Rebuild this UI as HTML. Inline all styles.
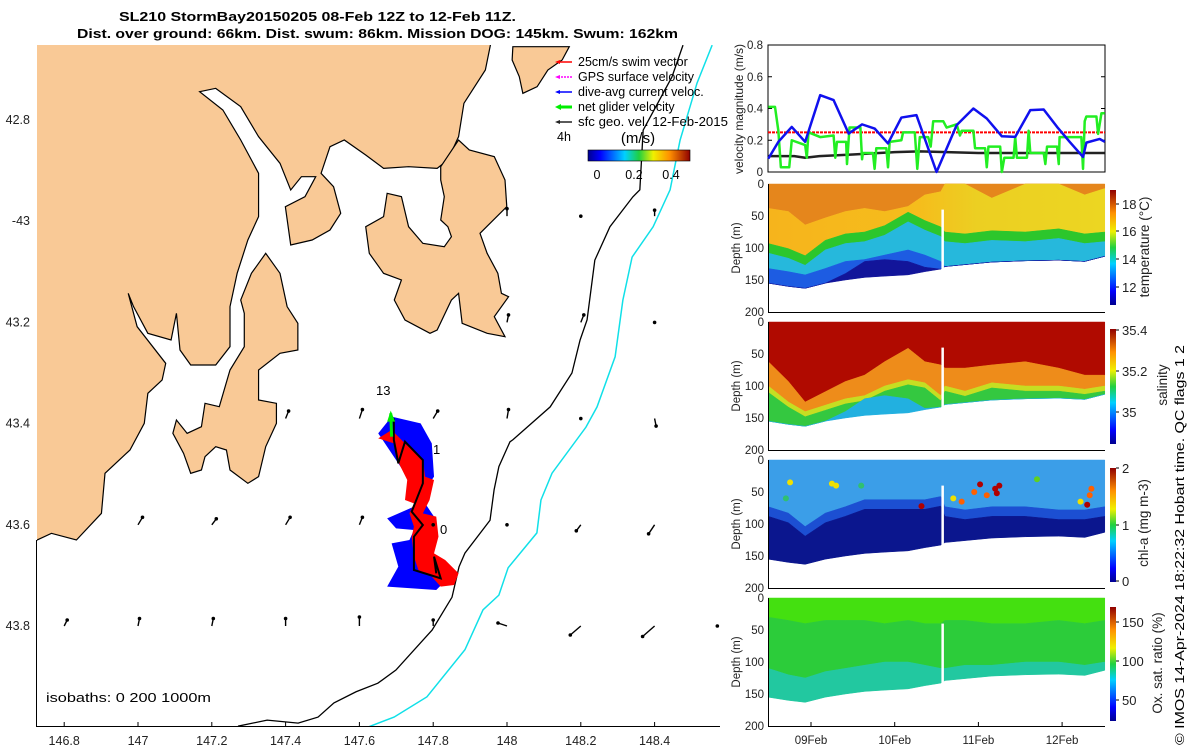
<!DOCTYPE html>
<html><head><meta charset="utf-8">
<style>
html,body{margin:0;padding:0;background:#fff;}
svg{display:block;font-family:"Liberation Sans","DejaVu Sans",sans-serif;}
</style></head>
<body>
<svg id="fig" width="1200" height="750" viewBox="0 0 1200 750" xmlns="http://www.w3.org/2000/svg">
<defs>
  <clipPath id="mapclip"><rect x="37" y="45" width="683" height="681"/></clipPath>
  <linearGradient id="jet" x1="0" y1="1" x2="0" y2="0">
    <stop offset="0" stop-color="#00008f"/><stop offset="0.12" stop-color="#0000ff"/>
    <stop offset="0.36" stop-color="#00d0ff"/><stop offset="0.5" stop-color="#20d040"/>
    <stop offset="0.64" stop-color="#f0f000"/><stop offset="0.8" stop-color="#ff9000"/>
    <stop offset="1" stop-color="#900000"/>
  </linearGradient>
  <linearGradient id="jeth" x1="0" y1="0" x2="1" y2="0">
    <stop offset="0" stop-color="#00008f"/><stop offset="0.12" stop-color="#0000ff"/>
    <stop offset="0.36" stop-color="#00d0ff"/><stop offset="0.5" stop-color="#20d040"/>
    <stop offset="0.64" stop-color="#f0f000"/><stop offset="0.8" stop-color="#ff9000"/>
    <stop offset="1" stop-color="#900000"/>
  </linearGradient>
  <linearGradient id="tyellow" gradientUnits="userSpaceOnUse" x1="768" y1="0" x2="1105" y2="0">
    <stop offset="0" stop-color="#f6b41c"/><stop offset="0.45" stop-color="#f5bd1c"/>
    <stop offset="0.62" stop-color="#eccf22"/><stop offset="1" stop-color="#ecd622"/>
  </linearGradient>
</defs>

<text x="119" y="21" font-size="13" font-weight="bold" textLength="397" lengthAdjust="spacingAndGlyphs">SL210 StormBay20150205 08-Feb 12Z to 12-Feb 11Z.</text>
<text x="77" y="38" font-size="13" font-weight="bold" textLength="601" lengthAdjust="spacingAndGlyphs">Dist. over ground: 66km. Dist. swum: 86km. Mission DOG: 145km. Swum: 162km</text>

<g id="map">
 <g clip-path="url(#mapclip)">
  <g id="land" transform="translate(30,40) scale(0.357143,0.333333)" fill="#f9c996" stroke="#000" stroke-width="1.2">
   <polygon vector-effect="non-scaling-stroke" points="0,0 1292,0 1275,90 1215,190 1200,290 1170,360 1140,385 1060,380 990,385 940,345 880,300 840,320 815,400 850,440 870,520 840,570 790,600 730,615 715,500 770,470 800,410 760,410 730,450 700,370 640,290 590,200 520,145 475,155 540,210 590,300 640,400 640,530 610,600 580,700 560,800 560,920 520,975 450,975 420,930 410,820 395,900 330,880 290,800 275,760 300,860 380,970 370,1020 330,1060 320,1150 280,1230 210,1300 200,1420 130,1500 60,1480 0,1510"/>
   <polygon vector-effect="non-scaling-stroke" points="1150,380 1200,300 1230,330 1300,350 1330,420 1335,500 1260,580 1280,640 1310,700 1320,760 1340,770 1300,830 1330,890 1280,880 1210,850 1200,760 1180,780 1140,870 1120,880 1050,840 1020,780 1040,720 990,700 950,640 940,560 990,530 1000,460 1040,470 1060,560 1100,610 1160,620 1180,590 1170,560 1150,540 1160,470 1150,420"/>
   <polygon vector-effect="non-scaling-stroke" points="660,640 700,700 720,800 750,850 750,930 700,940 640,990 640,1080 690,1090 690,1150 660,1220 640,1310 610,1330 560,1290 550,1230 520,1220 490,1250 480,1290 450,1300 430,1240 400,1180 410,1140 440,1180 480,1160 490,1090 530,1100 560,990 600,920 600,820 590,780 620,700"/>
   <polygon vector-effect="non-scaling-stroke" points="1352,20 1510,20 1490,60 1450,90 1420,140 1380,160 1370,110 1350,60"/>
  </g>
  <g id="isobaths" fill="none"></g>
  <g id="track" transform="translate(30,380) scale(0.446429,0.333333)">
   <polygon fill="#0000ff" points="780,160 810,110 875,130 900,190 905,290 880,340 860,380 800,415 820,445 860,450 850,480 810,490 825,560 800,620 910,630 940,590 900,560 880,480 870,430 905,410"/>
   <polygon fill="#ff0000" points="780,175 810,150 840,190 880,240 885,290 905,300 895,360 880,400 910,410 915,470 905,520 930,540 960,580 950,615 920,620 900,590 870,570 860,530 855,470 860,440 850,400 860,370 840,360 845,300 830,260 820,230 815,190"/>
   <polyline fill="none" stroke="#000" stroke-width="2" vector-effect="non-scaling-stroke" points="815,115 815,180 825,250 840,185 880,240 880,310 855,395 880,435 860,470 860,570 920,595 905,530 910,580"/>
   <polyline fill="none" stroke="#00ee00" stroke-width="3" vector-effect="non-scaling-stroke" points="810,170 808,100"/>
   <polygon fill="#00ee00" points="800,125 808,92 818,125"/>
  </g>
  <g id="vectors"></g>
 </g>
 <line x1="36.5" y1="540" x2="36.5" y2="726" stroke="#000"/>
 <line x1="36" y1="726.5" x2="720" y2="726.5" stroke="#000"/>
 <g id="mapticks" font-size="12.5" fill="#222"></g>
 <text x="376" y="395" font-size="13">13</text>
 <text x="433" y="454" font-size="13">1</text>
 <text x="440" y="534" font-size="13">0</text>
 <text x="46" y="702" font-size="13" textLength="165" lengthAdjust="spacingAndGlyphs">isobaths: 0   200  1000m</text>
 <g font-size="12.5">
  <g><line x1="558" y1="62" x2="572" y2="62" stroke="#f00" stroke-width="1.5"/><polygon points="555,62 560,60 560,64" fill="#f00"/><text x="578" y="66">25cm/s swim vector</text></g>
  <g><line x1="558" y1="77" x2="572" y2="77" stroke="#f0f" stroke-width="1.5" stroke-dasharray="2,1"/><polygon points="555,77 560,75 560,79" fill="#f0f"/><text x="578" y="81">GPS surface velocity</text></g>
  <g><line x1="558" y1="92" x2="572" y2="92" stroke="#00f" stroke-width="1.5"/><polygon points="555,92 560,90 560,94" fill="#00f"/><text x="578" y="96">dive-avg current veloc.</text></g>
  <g><line x1="558" y1="107" x2="572" y2="107" stroke="#0e0" stroke-width="3"/><polygon points="555,107 561,104 561,110" fill="#0e0"/><text x="578" y="111">net glider velocity</text></g>
  <g><line x1="558" y1="122" x2="572" y2="122" stroke="#222" stroke-width="1.5"/><polygon points="555,122 560,120 560,124" fill="#222"/><text x="578" y="126" textLength="150" lengthAdjust="spacingAndGlyphs">sfc geo. vel. 12-Feb-2015</text></g>
  <text x="557" y="141">4h</text>
 </g>
 <text x="638" y="143" font-size="15" text-anchor="middle">(m/s)</text>
 <rect x="588" y="150" width="102" height="11" fill="url(#jeth)" stroke="#000" stroke-width="0.6"/>
 <text x="597" y="179" font-size="12.5" text-anchor="middle">0</text>
 <text x="634" y="179" font-size="12.5" text-anchor="middle">0.2</text>
 <text x="671" y="179" font-size="12.5" text-anchor="middle">0.4</text>
</g>

<g id="vel"></g>
<g id="panels"></g>
<g id="xaxis" font-size="11.5" fill="#222"></g>

<text transform="translate(1184,745) rotate(-90)" font-size="13" textLength="400" lengthAdjust="spacingAndGlyphs">© IMOS 14-Apr-2024 18:22:32 Hobart time. QC flags 1  2</text>
</svg>

<script>
// ---------- Velocity data ----------
const velBlueT = [8.49,8.61,8.77,8.93,9.11,9.27,9.45,9.61,9.76,9.92,10.08,10.26,10.50,10.74,10.94,11.10,11.28,11.44,11.62,11.78,11.94,12.09,12.25,12.29,12.45,12.51];
const velBlueV = [0.084,0.19,0.284,0.19,0.484,0.453,0.242,0.30,0.274,0.18,0.343,0.358,0.0,0.295,0.40,0.337,0.225,0.221,0.39,0.394,0.284,0.19,0.095,0.185,0.208,0.19];
const velGreenT = [8.49,8.57,8.61,8.64,8.74,8.77,8.93,8.95,8.97,9.11,9.27,9.29,9.31,9.42,9.43,9.46,9.59,9.61,9.62,9.74,9.76,9.78,9.90,9.92,9.94,10.08,10.10,10.24,10.27,10.30,10.40,10.43,10.46,10.58,10.62,10.74,10.78,10.80,10.94,10.96,11.08,11.10,11.12,11.26,11.28,11.31,11.42,11.44,11.46,11.58,11.60,11.62,11.78,11.80,11.82,11.94,11.96,11.97,12.09,12.23,12.25,12.27,12.29,12.41,12.43,12.47,12.51];
const velGreenV = [0.41,0.41,0.26,0.03,0.03,0.20,0.17,0.09,0.25,0.22,0.23,0.09,0.19,0.19,0.05,0.28,0.28,0.08,0.12,0.12,0.02,0.15,0.15,0.03,0.19,0.20,0.25,0.25,0.02,0.22,0.22,0.16,0.32,0.32,0.28,0.30,0.23,0.26,0.26,0.15,0.15,0.03,0.16,0.16,0.0,0.09,0.09,0.22,0.09,0.09,0.26,0.12,0.12,0.05,0.16,0.16,0.05,0.22,0.22,0.22,0.02,0.32,0.35,0.35,0.24,0.37,0.37];
const velBlackT = [8.49,8.8,8.93,9.1,9.5,10.0,10.3,11.0,12.51];
const velBlackV = [0.10,0.10,0.09,0.10,0.11,0.125,0.13,0.12,0.12];
const velSwim = [0.25];
const velTicks = [0,0.2,0.4,0.6,0.8];

// ---------- Section data ----------
const secT      = [8.49,8.73,8.93,9.17,9.41,9.64,9.88,10.16,10.36,10.55,10.6,10.84,11.16,11.56,11.96,12.27,12.51];
const bottomD   = [155,160,163,155,150,146,144,142,137,133,129,126,122,120,119,121,113];
const tempD17   = [38,43,64,53,43,38,43,35,17,12,0,0,22,0,0,17,7];
const tempD16   = [93,101,112,88,78,75,65,44,57,67,75,78,73,75,70,78,75];
const tempD14   = [108,116,127,103,93,90,80,59,72,82,90,93,88,90,85,93,90];
const tempD13   = [132,137,142,132,121,118,111,103,111,121,129,126,122,120,119,121,113];
const tempD12   = [155,160,163,155,140,121,118,121,130,133,129,126,122,120,119,121,113];
const salD1     = [62,93,125,109,93,83,62,41,62,67,72,72,67,62,72,83,83];
const salD2     = [100,125,140,130,120,115,100,90,95,115,100,108,95,100,100,105,100];
const salD3     = [110,133,148,138,128,123,108,98,103,123,108,116,103,108,108,113,108];
const salD4     = [155,160,163,155,140,120,115,120,135,133,129,126,122,120,119,121,113];
const chlD1     = [73,83,104,83,73,62,62,62,62,57,73,78,73,73,78,78,73];
const chlD2     = [88,98,119,98,88,77,77,77,77,72,88,93,88,88,93,93,88];
const oxD1      = [30,35,40,35,35,35,40,35,40,40,35,35,40,40,35,40,35];
const oxD2      = [110,120,125,115,110,105,100,100,105,110,110,105,105,100,100,105,100];
const chlDotT   = [8.75,9.25,9.3,10.32,10.7,10.8,10.95,11.02,11.1,11.2,11.22,11.25,12.22,12.3,12.33,12.35,11.7,9.6,8.7];
const chlDotD   = [35,37,40,72,60,65,50,38,55,45,52,40,65,70,55,45,30,40,60];
const chlDotV   = [1.5,1.4,1.5,2.0,1.4,1.6,1.6,2.0,1.7,1.9,2.0,2.0,1.5,2.0,1.6,1.8,1.1,1.0,1.0];
const gapT      = [10.57];
const dayTicks  = [9,10,11,12];
const dayLabels = ["09Feb","10Feb","11Feb","12Feb"];

// ---------- Map data ----------
const lonTicks = [146.8,147,147.2,147.4,147.6,147.8,148,148.2,148.4];
const latTicks = [-42.8,-43,-43.2,-43.4,-43.6,-43.8];
const latLabels = ["42.8","-43","43.2","43.4","43.6","43.8"];
const iso200Lon = [148.477,148.447,148.369,148.360,148.341,148.279,148.238,148.217,148.198,148.176,148.117,148.016,148.008,147.978,147.965,147.954,147.886,147.870,147.851,147.797,147.699,147.650,147.591,147.531,147.488,147.434,147.350,147.271];
const iso200Lat = [-42.652,-42.715,-42.820,-42.938,-42.952,-43.011,-43.077,-43.195,-43.235,-43.300,-43.367,-43.432,-43.436,-43.485,-43.531,-43.591,-43.656,-43.683,-43.743,-43.808,-43.887,-43.913,-43.930,-43.952,-43.980,-43.992,-43.986,-43.998];
const iso1000Lon = [148.556,148.515,148.469,148.442,148.396,148.339,148.314,148.293,148.244,148.214,148.122,148.092,148.081,148.003,147.978,147.935,147.886,147.783,147.694,147.626];
const iso1000Lat = [-42.652,-42.727,-42.840,-42.938,-43.011,-43.071,-43.156,-43.268,-43.367,-43.407,-43.498,-43.551,-43.616,-43.685,-43.739,-43.768,-43.847,-43.940,-43.980,-43.999];
const vecLon = [148.0,148.2,148.4, 148.0,148.2,148.4, 147.4,147.6,147.8,148.0,148.2,148.4, 147.0,147.2,147.4,147.6,147.8,148.0,148.2,148.4, 146.8,147.0,147.2,147.4,147.6,147.8,148.0,148.2,148.4,148.57];
const vecLat = [-42.99,-42.99,-42.99, -43.2,-43.2,-43.2, -43.39,-43.39,-43.39,-43.39,-43.39,-43.39, -43.6,-43.6,-43.6,-43.6,-43.6,-43.6,-43.6,-43.6, -43.8,-43.8,-43.8,-43.8,-43.8,-43.8,-43.8,-43.8,-43.8,-43.8];
const vecU = [0.0,0.0,0.0, 0.01,0.02,0.0, 0.02,0.02,0.03,0.01,0.0,0.01, 0.03,0.03,0.03,0.02,0.0,0.0,-0.03,-0.04, 0.02,0.01,0.01,0.0,0.0,0.0,-0.06,-0.07,-0.08,0.0];
const vecV = [0.05,0.0,0.04, 0.05,0.05,0.0, 0.05,0.06,0.05,0.06,0.0,-0.05, 0.05,0.04,0.05,0.05,0.0,0.0,-0.04,-0.06, 0.04,0.05,0.05,0.05,0.06,0.04,0.02,-0.06,-0.07,0.0];

const NS = "http://www.w3.org/2000/svg";
function mk(tag, attrs, parent){ const e=document.createElementNS(NS,tag); for(const k in attrs) e.setAttribute(k,attrs[k]); parent.appendChild(e); return e; }
const xT = t => 811 + (t-9)*83.7;
const X0 = 768, X1 = 1105;
const yV = v => 172 - v*158.75;
const lonX = lon => 138 + (lon-147)*369;
const latY = lat => 120 + (-42.8-lat)*506;

const mt = document.getElementById('mapticks');
lonTicks.forEach(l=>{
  const x=lonX(l);
  const tk=mk('line',{x1:x,y1:722,x2:x,y2:726,stroke:'#000'},mt);
  
  
  const t=mk('text',{x:x,y:745,'text-anchor':'middle'},mt); t.textContent=String(l);
  
  
});
latTicks.forEach((l,i)=>{
  const y=latY(l);
  const t=mk('text',{x:30,y:y+4,'text-anchor':'end'},mt); t.textContent=latLabels[i];
  
  
});
const iso=document.getElementById('isobaths');
const p200=mk('polyline',{points:iso200Lon.map((l,i)=>lonX(l)+','+latY(iso200Lat[i])).join(' '),stroke:'#000','stroke-width':1.3,fill:'none'},iso);


const p1000=mk('polyline',{points:iso1000Lon.map((l,i)=>lonX(l)+','+latY(iso1000Lat[i])).join(' '),stroke:'#10e0e8','stroke-width':1.5,fill:'none'},iso);


const vg=document.getElementById('vectors');
vecLon.forEach((l,i)=>{
  const x=lonX(l), y=latY(vecLat[i]);
  const dx=vecU[i]*150, dy=-vecV[i]*150;
  const ln=mk('line',{x1:x,y1:y,x2:x+dx,y2:y+dy,stroke:'#000','stroke-width':1.4},vg);
  
  
  const d=mk('circle',{cx:x+dx,cy:y+dy,r:1.8,fill:'#000'},vg);
  
  
});

const vel=document.getElementById('vel');
const vb=mk('rect',{x:X0,y:45,width:X1-X0,height:127,fill:'#fff',stroke:'#000'},vel);


velTicks.forEach(v=>{
  const y=yV(v);
  mk('line',{x1:X0,y1:y,x2:X0+4,y2:y,stroke:'#000'},vel);
  mk('line',{x1:X1-4,y1:y,x2:X1,y2:y,stroke:'#000'},vel);
  const t=mk('text',{x:X0-5,y:y+4,'text-anchor':'end','font-size':11.5,fill:'#222'},vel); t.textContent=String(v);
  
  
});
const sw=mk('line',{x1:X0,y1:yV(velSwim[0]),x2:X1,y2:yV(velSwim[0]),stroke:'#f00','stroke-width':2,'stroke-dasharray':'3,1'},vel);


function vline(T,V,col,w,name){ const p=mk('polyline',{points:T.map((t,i)=>xT(t)+','+yV(V[i])).join(' '),fill:'none',stroke:col,'stroke-width':w,'stroke-linejoin':'round'},vel);   }
vline(velBlackT,velBlackV,'#222',2.5,'sfc-geo-velocity-line');
vline(velGreenT,velGreenV,'#22ee22',2.5,'net-glider-velocity-line');
vline(velBlueT,velBlueV,'#1010ee',2.5,'dive-avg-velocity-line');
const vyl=mk('text',{transform:'translate(743,109) rotate(-90)','text-anchor':'middle','font-size':12,fill:'#222'},vel); vyl.textContent='velocity magnitude (m/s)';



const panels=document.getElementById('panels');
function sectionPanel(y0, name, bounds, colors, cbar, label, labelX){
  const g=mk('g',{},panels);
  
  
  const yD=d=>y0+d*0.64;
  const bnds=[secT.map(()=>0)].concat(bounds).concat([bottomD]);
  for(let k=0;k<bnds.length-1;k++){
    const top=bnds[k].map((d,i)=>Math.min(d,bottomD[i]));
    const bot=bnds[k+1].map((d,i)=>Math.min(d,bottomD[i]));
    const pts=secT.map((t,i)=>xT(t)+','+yD(top[i])).concat(secT.map((t,i)=>xT(t)+','+yD(bot[i])).reverse());
    const p=mk('polygon',{points:pts.join(' '),fill:colors[k],stroke:colors[k],'stroke-width':0.5},g);
    
    
  }
  gapT.forEach(t=>{
    const r=mk('rect',{x:xT(t)-1,y:yD(40),width:2.5,height:yD(140)-yD(40),fill:'#fff'},g);
    
    
  });
  mk('line',{x1:X0+0.5,y1:y0,x2:X0+0.5,y2:y0+128,stroke:'#000'},g);
  mk('line',{x1:X0,y1:y0+128.5,x2:X1,y2:y0+128.5,stroke:'#000'},g);
  [0,50,100,150,200].forEach(d=>{
    const t=mk('text',{x:X0-4,y:yD(d)+4,'text-anchor':'end','font-size':11.5,fill:'#222'},g); t.textContent=String(d);
    
    
  });
  const yl=mk('text',{transform:'translate(740,'+(y0+64)+') rotate(-90)','text-anchor':'middle','font-size':11.5,fill:'#222'},g); yl.textContent='Depth (m)';
  
  
  const cb=mk('rect',{x:1110,y:cbar.y0,width:6,height:cbar.y1-cbar.y0,fill:'url(#jet)'},g);
  
  
  cbar.ticks.forEach((tv,i)=>{
    const y=cbar.pos[i];
    mk('line',{x1:1116,y1:y,x2:1119,y2:y,stroke:'#000'},g);
    const t=mk('text',{x:1122,y:y+5,'font-size':13,fill:'#222'},g); t.textContent=tv;
    
    
  });
  const cl=mk('text',{transform:'translate('+labelX+','+cbar.mid+') rotate(-90)','text-anchor':'middle','font-size':13.5,fill:'#222'},g); cl.textContent=label;
  
  
  return {g:g,yD:yD};
}
sectionPanel(184,'temperature-panel',[tempD17,tempD16,tempD14,tempD13,tempD12],
  ['#e5861c','url(#tyellow)','#2cc62c','#26b8dc','#1d5ce2','#12159a'],
  {y0:190,y1:305,ticks:['18','16','14','12'],pos:[204,231,259,287],mid:247},'temperature (°C)',1149);
sectionPanel(322,'salinity-panel',[salD1,salD2,salD3,salD4],
  ['#b00a00','#ee8c1a','#c6de22','#34c840','#22b0e0'],
  {y0:329,y1:444,ticks:['35.4','35.2','35'],pos:[330,371,412],mid:385},'salinity',1167);
const chl=sectionPanel(460,'chlorophyll-panel',[chlD1,chlD2],
  ['#3b9ee8','#1c4fd2','#0b168e'],
  {y0:468,y1:582,ticks:['2','1','0'],pos:[468,525,581],mid:523},'chl-a (mg m-3)',1148);
const chlColor=v=> v>=1.9?'#b00000': v>=1.6?'#ff6000': v>=1.4?'#f0e000': v>=1.1?'#60d020':'#30c070';
chlDotT.forEach((t,i)=>{
  const c=mk('circle',{cx:xT(t),cy:chl.yD(chlDotD[i]),r:3,fill:chlColor(chlDotV[i])},chl.g);
  
  
});
sectionPanel(598,'oxygen-panel',[oxD1,oxD2],
  ['#44e010','#2ccc3a','#22c8a0'],
  {y0:607,y1:721,ticks:['150','100','50'],pos:[622,661,700],mid:663},'Ox. sat. ratio (%)',1162);

const xa=document.getElementById('xaxis');
dayTicks.forEach((d,i)=>{
  const x=xT(d);
  mk('line',{x1:x,y1:722,x2:x,y2:726,stroke:'#000'},xa);
  const t=mk('text',{x:x,y:744,'text-anchor':'middle'},xa); t.textContent=dayLabels[i];
  
  
});
</script>
</body></html>
